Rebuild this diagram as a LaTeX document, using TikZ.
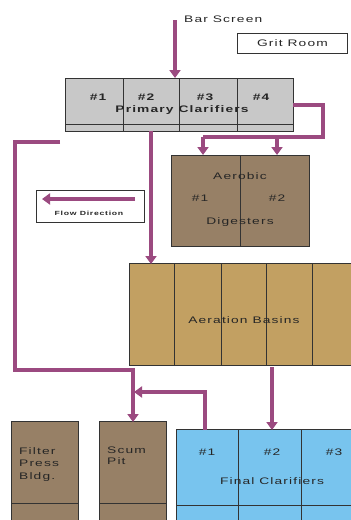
\documentclass[tikz,border=0pt]{standalone}
\usepackage{fontspec}
\newfontfamily\diag[FakeStretch=1.45,LetterSpace=12]{Liberation Sans}
\usetikzlibrary{arrows.meta}
\definecolor{flowc}{HTML}{9B4A80}
\definecolor{pcgray}{HTML}{C8C8C8}
\definecolor{digbrown}{HTML}{978066}
\definecolor{aertan}{HTML}{C2A062}
\definecolor{fcblue}{HTML}{78C4EE}
\begin{document}
\begin{tikzpicture}[x=1pt,y=-1pt,
  font=\diag\fontsize{9.5}{11}\selectfont,
  flow/.style={draw=flowc, line width=3.8pt},
  fa/.style={flow, -{Triangle[width=11pt,length=8pt]}},
  box/.style={draw=black!80, line width=0.9pt, anchor=north west, inner sep=0pt},
  div/.style={draw=black!80, line width=0.9pt},
  lbl/.style={inner sep=0pt, text=black!85}]
\useasboundingbox (0,0) rectangle (351,520);
\clip (0,0) rectangle (351,520);
% Grit room
\node[box, minimum width=110pt, minimum height=20pt] (grit) at (237,33) {};
\node[lbl] (gritt) at (grit.center) {Grit Room};
% Bar screen
\node[lbl, anchor=west] (bar) at (184,19) {Bar Screen};
\coordinate (barin) at (175,20);
% Primary clarifiers
\node[box, fill=pcgray, minimum width=228pt, minimum height=53pt] (pc) at (65,78) {};
\draw[div] (65,124) -- (293,124);
\foreach \x in {123,179,237} \draw[div] (\x,78) -- (\x,131);
\foreach \x/\n in {98/1,146/2,205/3,261/4} \node[lbl, font=\diag\fontsize{9.5}{11}\selectfont\bfseries] at (\x,97) {\#\n};
\node[lbl, font=\diag\fontsize{9.5}{11}\selectfont\bfseries] (pct) at (182,110) {Primary Clarifiers};
\draw[fa] (barin) -- (barin |- pc.north);
% Digesters
\node[box, fill=digbrown, minimum width=138pt, minimum height=91pt] (dig) at (171,155) {};
\draw[div] (240,155) -- (240,246);
\node[lbl] at (240,176) {Aerobic};
\node[lbl] at (200,198) {\#1};
\node[lbl] at (277,198) {\#2};
\node[lbl] at (240,222) {Digesters};
\coordinate (pcr) at (293,105);
\coordinate (jr) at (323,137);
\draw[flow] (pcr) -- (pcr -| jr) -- (jr) -- (203,137);
\draw[fa] (203,137) -- (203 ,155);
\draw[fa] (277,137) -- (277,155);
% Flow direction legend
\node[box, minimum width=108pt, minimum height=32pt] (legend) at (36,190) {};
\draw[fa] (135,199) -- (42,199);
\node[lbl, font=\diag\fontsize{6}{7}\selectfont\bfseries] at (89,213) {Flow Direction};
% Aeration basins
\node[box, fill=aertan, minimum width=240pt, minimum height=102pt] (aer) at (129,263) {};
\foreach \x in {174,221,266,312} \draw[div] (\x,263) -- (\x,365);
\node[lbl] at (244,320) {Aeration Basins};
\draw[fa] (151,131) -- (151,264);
% Final clarifiers
\node[box, fill=fcblue, minimum width=190pt, minimum height=100pt] (fc) at (176,429) {};
\draw[div] (176,505) -- (366,505);
\foreach \x in {238,301} \draw[div] (\x,429) -- (\x,525);
\node[lbl] at (207,452) {\#1};
\node[lbl] at (272,452) {\#2};
\node[lbl] at (334,452) {\#3};
\node[lbl] at (272,481) {Final Clarifiers};
\draw[fa] (272,367) -- (272,430);
% Filter press
\node[box, fill=digbrown, minimum width=67pt, minimum height=110pt] (fp) at (11,421) {};
\draw[div] (11,503) -- (78,503);
\node[lbl, anchor=north west, align=left, font=\diag\fontsize{9.5}{12.5}\selectfont] at (19,447) {Filter\\Press\\Bldg.};
% Scum pit
\node[box, fill=digbrown, minimum width=67pt, minimum height=110pt] (sp) at (99,421) {};
\draw[div] (99,503) -- (166,503);
\node[lbl, anchor=north west, align=left, font=\diag\fontsize{9.5}{11}\selectfont] at (107,447) {Scum\\Pit};
% Return lines
\draw[fa] (60,142) -- (15,142) -- (15,370) -- (133,370) -- (133,422);
\draw[fa] (205,430) -- (205,392) -- (134,392);
\end{tikzpicture}
\end{document}
